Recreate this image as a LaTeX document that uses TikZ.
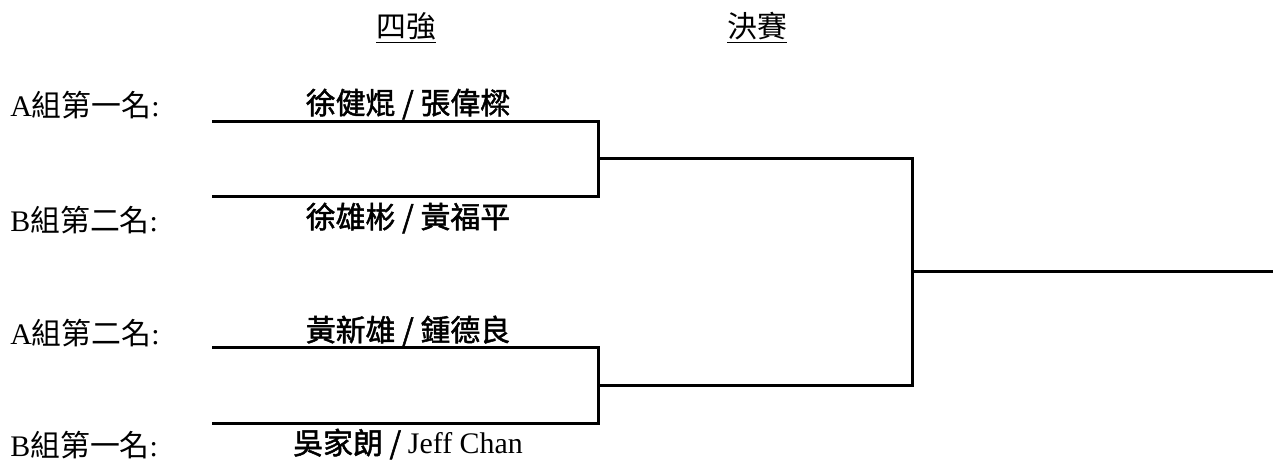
\documentclass[tikz,border=0pt]{standalone}
\usepackage{fontspec}
\setmainfont{Liberation Serif}
\newfontfamily\cjk{Noto Sans CJK TC}
\newfontfamily\cjkname{Noto Sans CJK TC}[FakeBold=1.6]
\usetikzlibrary{positioning}
\begin{document}
\begin{tikzpicture}[x=0.02cm,y=-0.02cm,
		bline/.style={line width=1.7pt},
		lbl/.style={anchor=west,inner sep=0pt,font=\fontsize{17}{20}\selectfont},
		team/.style={inner sep=0pt,font=\fontsize{17}{20}\selectfont\cjkname},
		round/.style={inner sep=0pt,font=\fontsize{17}{20}\selectfont\cjk}]
		\useasboundingbox (0,0) rectangle (1273,461);
		\node[round] (semi) at (406,28) {\underline{四強}};
		\node[round] (final) at (757,28) {\underline{決賽}};
		\node[lbl] (la1) at (10,105) {A{\cjk 組第一名}:};
		\node[lbl] (lb2) at (10,220) {B{\cjk 組第二名}:};
		\node[lbl] (la2) at (10,333) {A{\cjk 組第二名}:};
		\node[lbl] (lb1) at (10,445) {B{\cjk 組第一名}:};
		\node[team] (ta1) at (408,104) {徐健焜 / 張偉樑};
		\node[team] (tb2) at (408,218) {徐雄彬 / 黃福平};
		\node[team] (ta2) at (408,331) {黃新雄 / 鍾德良};
		\node[team] (tb1) at (408,444) {吳家朗 / {\rmfamily Jeff Chan}};
		\coordinate (a1) at (212,121); \coordinate (a2) at (598,121);
		\coordinate (b1) at (212,196); \coordinate (b2) at (598,196);
		\coordinate (c1) at (212,347); \coordinate (c2) at (598,347);
		\coordinate (d1) at (212,423); \coordinate (d2) at (598,423);
		\coordinate (s1) at (598,158); \coordinate (s1e) at (912,158);
		\coordinate (s2) at (598,385); \coordinate (s2e) at (912,385);
		\coordinate (f) at (912,271); \coordinate (fe) at (1273,271);
		\draw[bline] (a1)--(a2)--(b2)--(b1);
		\draw[bline] (c1)--(c2)--(d2)--(d1);
		\draw[bline] (s1)--(s1e)--(s2e)--(s2);
		\draw[bline] (f)--(fe);
	\end{tikzpicture}
\end{document}
